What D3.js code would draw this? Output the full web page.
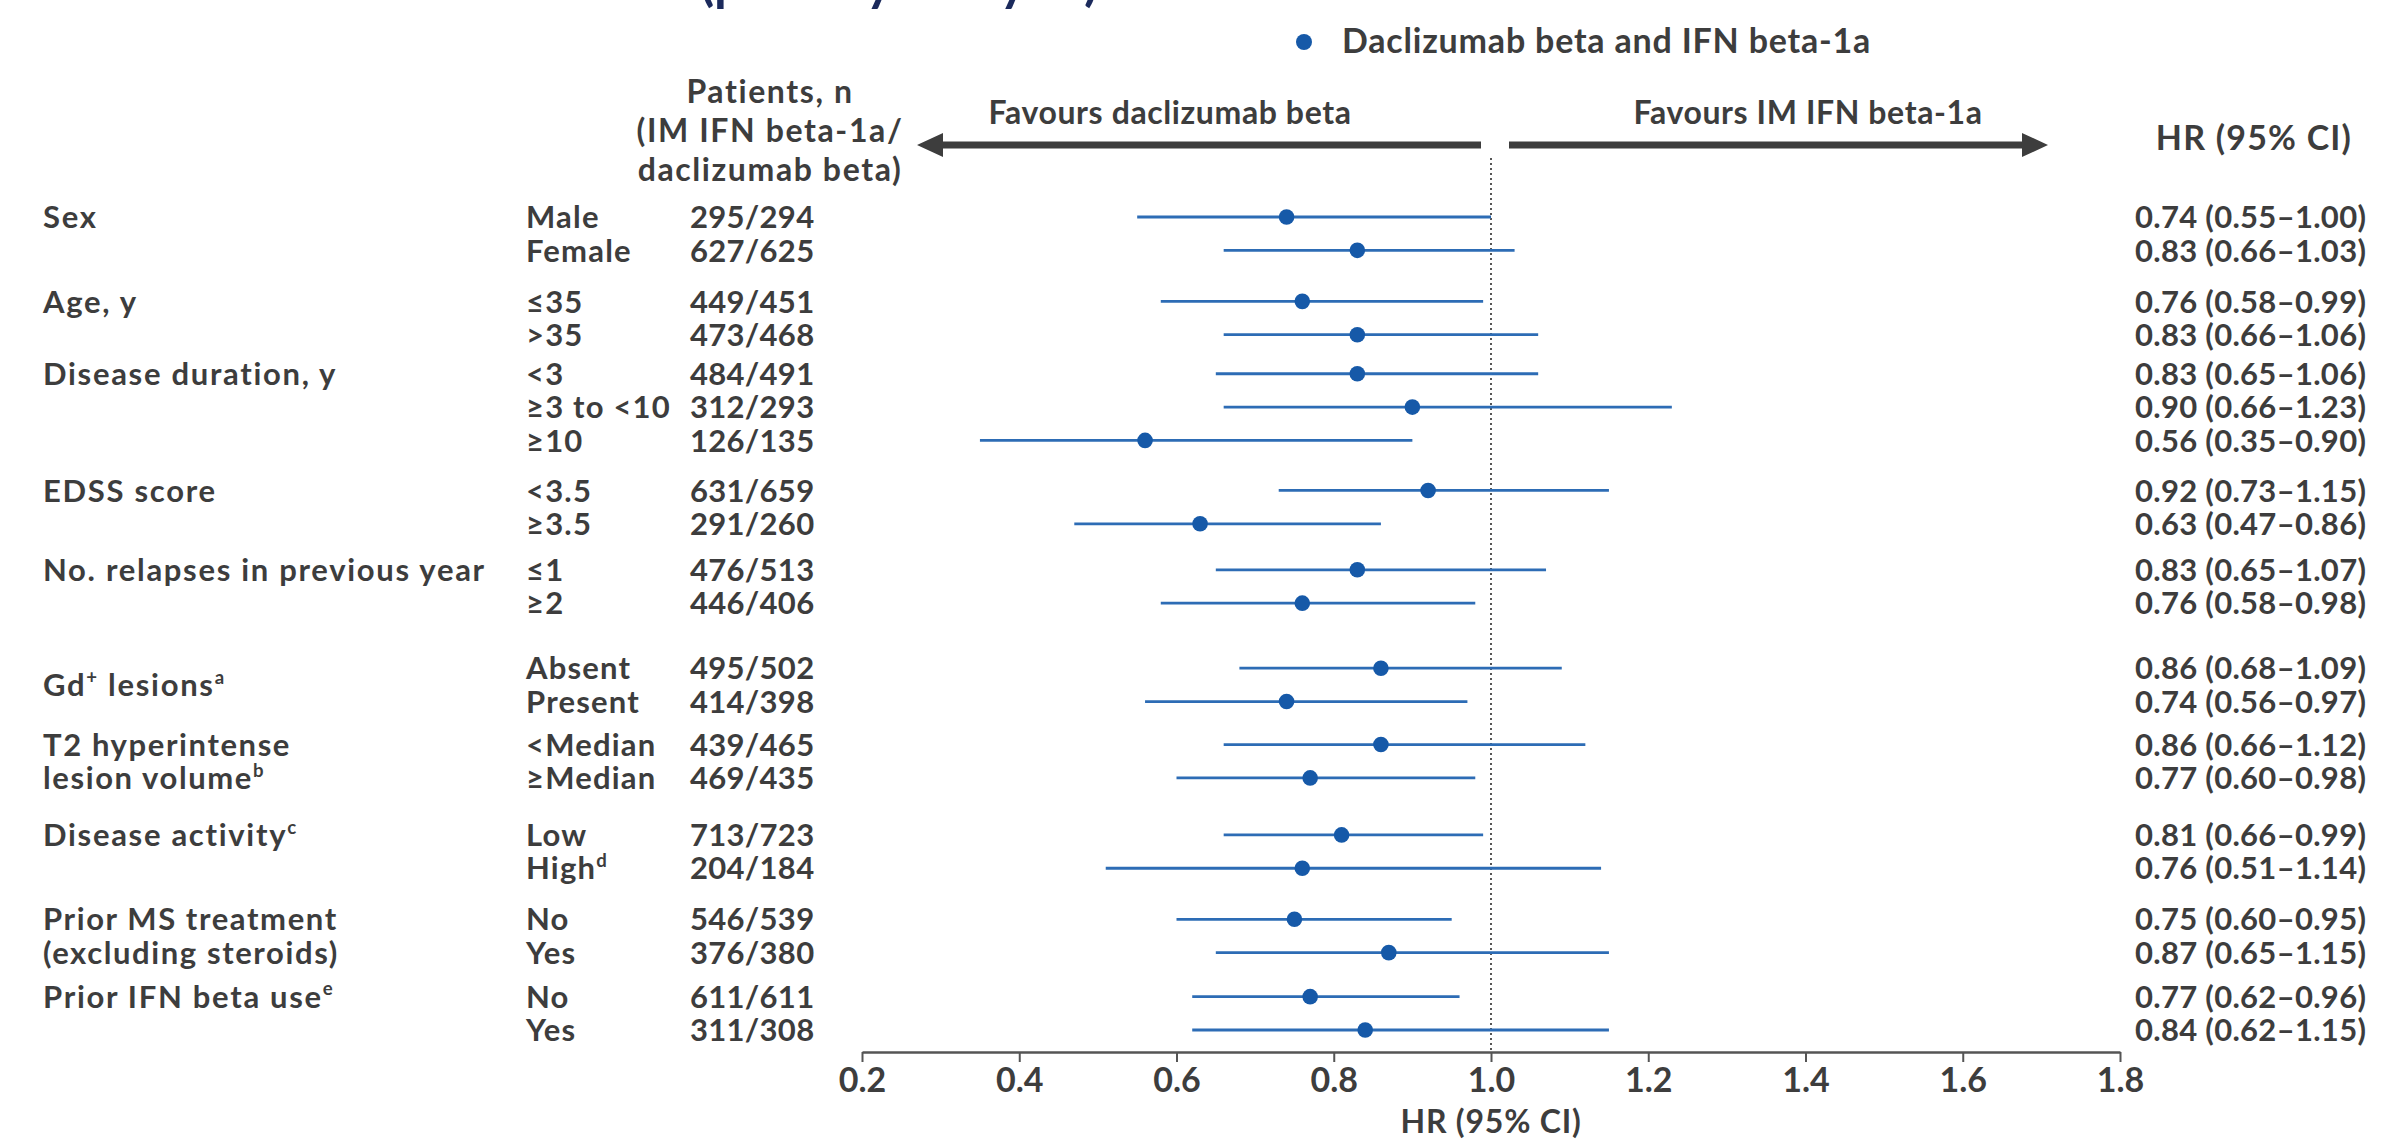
<!DOCTYPE html>
<html><head><meta charset="utf-8">
<script src="https://cdn.jsdelivr.net/npm/d3@7"></script>
<style>
body{margin:0;background:#fff}
svg{display:block}
text{font-family:Lato,"Open Sans",sans-serif;font-weight:700;fill:#3d3d3d}
</style>
</head><body>
<svg id="chart" width="2388" height="1143"></svg>
<script>
// ---------------- data ----------------
const groupLabels = [
  "Sex", "Age, y", "Disease duration, y", "EDSS score",
  "No. relapses in previous year", "Gd^+ lesions^a",
  "T2 hyperintense|lesion volume^b", "Disease activity^c",
  "Prior MS treatment|(excluding steroids)", "Prior IFN beta use^e"
];
const rowGroup = [0,0,1,1,2,2,2,3,3,4,4,5,5,6,6,7,7,8,8,9,9];
const subgroups = ["Male","Female","≤35",">35","<3","≥3 to <10","≥10","<3.5","≥3.5","≤1","≥2",
  "Absent","Present","<Median","≥Median","Low","High^d","No","Yes","No","Yes"];
const patients = ["295/294","627/625","449/451","473/468","484/491","312/293","126/135","631/659","291/260",
  "476/513","446/406","495/502","414/398","439/465","469/435","713/723","204/184","546/539","376/380","611/611","311/308"];
const hr  = [0.74,0.83,0.76,0.83,0.83,0.90,0.56,0.92,0.63,0.83,0.76,0.86,0.74,0.86,0.77,0.81,0.76,0.75,0.87,0.77,0.84];
const ciLow  = [0.55,0.66,0.58,0.66,0.65,0.66,0.35,0.73,0.47,0.65,0.58,0.68,0.56,0.66,0.60,0.66,0.51,0.60,0.65,0.62,0.62];
const ciHigh = [1.00,1.03,0.99,1.06,1.06,1.23,0.90,1.15,0.86,1.07,0.98,1.09,0.97,1.12,0.98,0.99,1.14,0.95,1.15,0.96,1.15];
const xTicks = [0.2,0.4,0.6,0.8,1.0,1.2,1.4,1.6,1.8];
const legendLabel = "Daclizumab beta and IFN beta-1a";
const favoursLeft = "Favours daclizumab beta";
const favoursRight = "Favours IM IFN beta-1a";
const patientsHeader = ["Patients, n","(IM IFN beta-1a/","daclizumab beta)"];
const hrHeader = "HR (95% CI)";
const axisTitle = "HR (95% CI)";
const titleText = "(primary analysis)";

// ---------------- layout ----------------
const svg = d3.select("#chart");
const ink = "#3d3d3d", blue = "#1659a8", blueLine = "#2d6cb5";
// extra vertical space (in row units) before each group
const groupGapUnits = [0, 1.53, 1.17, 1.50, 1.38, 1.95, 1.29, 1.71, 1.53, 1.32];
const slot = [];
let acc = 0;
rowGroup.forEach((g, i) => {
  if (i > 0) acc += (g !== rowGroup[i-1]) ? groupGapUnits[g] : 1;
  slot.push(acc);
});
const y = d3.scaleLinear().domain([0, acc]).range([217, 1030]);
const x = d3.scaleLinear().domain([0.2, 1.8]).range([862, 2120]);

const FS = 31;
function richText(sel, str, fs) {
  const parts = str.split(/(\^[^ ]+)/).filter(s => s.length);
  let raised = false;
  parts.forEach(p => {
    if (p.startsWith("^")) {
      sel.append("tspan").text(p.slice(1)).attr("font-size", fs*0.6)
        .attr("dy", raised ? 0 : -fs*0.4);
      raised = true;
    } else {
      sel.append("tspan").text(p).attr("dy", raised ? fs*0.4 : 0);
      raised = false;
    }
  });
}

// title (cut off at the top edge, as in the source figure)
svg.append("text").attr("x", 700).attr("y", 0).attr("font-size", 52)
  .style("fill", "#1b2a5c").text(titleText);

// legend
svg.append("circle").attr("cx", 1304).attr("cy", 42).attr("r", 8).attr("fill", blue);
svg.append("text").attr("x", 1342).attr("y", 53).attr("font-size", 34)
  .attr("letter-spacing", 0.8).text(legendLabel);

// patients header
patientsHeader.forEach((t, i) => {
  svg.append("text").attr("x", 770).attr("y", 103 + i*39).attr("font-size", 32)
    .attr("letter-spacing", 1.6).attr("text-anchor", "middle").text(t);
});
// favours labels
svg.append("text").attr("x", 1170).attr("y", 124).attr("font-size", 32).attr("letter-spacing", 0.6)
  .attr("text-anchor", "middle").text(favoursLeft);
svg.append("text").attr("x", 1808).attr("y", 124).attr("font-size", 32).attr("letter-spacing", 0.6)
  .attr("text-anchor", "middle").text(favoursRight);
svg.append("text").attr("x", 2254).attr("y", 150).attr("font-size", 34).attr("letter-spacing", 1.2)
  .attr("text-anchor", "middle").text(hrHeader);

// arrows
const ay = 145, half = 3.5, head = 12;
const lTip = x(0.2) + 55, lEnd = x(1.0) - 10, rStart = x(1.0) + 18, rTip = x(1.8) - 72;
svg.append("path").attr("fill", ink)
  .attr("d", `M${lEnd},${ay-half}L${lTip+26},${ay-half}L${lTip+26},${ay-head}L${lTip},${ay}L${lTip+26},${ay+head}L${lTip+26},${ay+half}L${lEnd},${ay+half}Z`);
svg.append("path").attr("fill", ink)
  .attr("d", `M${rStart},${ay-half}L${rTip-26},${ay-half}L${rTip-26},${ay-head}L${rTip},${ay}L${rTip-26},${ay+head}L${rTip-26},${ay+half}L${rStart},${ay+half}Z`);

// reference line at HR = 1
svg.append("line").attr("x1", x(1)).attr("x2", x(1)).attr("y1", 158).attr("y2", 1052)
  .attr("stroke", "#444").attr("stroke-width", 1.8).attr("stroke-dasharray", "2,3");

// group labels
groupLabels.forEach((lab, g) => {
  const rows = rowGroup.map((gg, i) => gg === g ? i : -1).filter(i => i >= 0);
  const lines = lab.split("|");
  if (lines.length > 1) {
    lines.forEach((ln, k) => {
      const t = svg.append("text").attr("x", 43).attr("y", y(slot[rows[k]]) + FS*0.36).attr("font-size", FS).attr("letter-spacing", 1.6);
      richText(t, ln, FS);
    });
  } else {
    const yy = lab.startsWith("Gd") ? (y(slot[rows[0]]) + y(slot[rows[1]])) / 2 : y(slot[rows[0]]);
    const t = svg.append("text").attr("x", 43).attr("y", yy + FS*0.36).attr("font-size", FS).attr("letter-spacing", 1.7);
    richText(t, lines[0], FS);
  }
});

// rows
subgroups.forEach((s, i) => {
  const yy = y(slot[i]);
  const t = svg.append("text").attr("x", 526).attr("y", yy + FS*0.36).attr("font-size", FS).attr("letter-spacing", 1.2);
  richText(t, s, FS);
  svg.append("text").attr("x", 690).attr("y", yy + FS*0.36).attr("font-size", FS).attr("letter-spacing", 0.3).text(patients[i]);
  svg.append("text").attr("x", 2135).attr("y", yy + FS*0.36).attr("font-size", FS).attr("letter-spacing", 0.3)
    .text(`${hr[i].toFixed(2)} (${ciLow[i].toFixed(2)}–${ciHigh[i].toFixed(2)})`);
});

// CI lines and points
const plot = svg.append("g");
plot.selectAll("line.ci").data(hr).join("line").attr("class", "ci")
  .attr("x1", (d, i) => x(ciLow[i])).attr("x2", (d, i) => x(ciHigh[i]))
  .attr("y1", (d, i) => y(slot[i])).attr("y2", (d, i) => y(slot[i]))
  .attr("stroke", blueLine).attr("stroke-width", 2.8);
plot.selectAll("circle.pt").data(hr).join("circle").attr("class", "pt")
  .attr("cx", d => x(d)).attr("cy", (d, i) => y(slot[i])).attr("r", 7.8).attr("fill", blue);

// x axis
const ax = svg.append("g").attr("transform", "translate(0,1052)")
  .call(d3.axisBottom(x).tickValues(xTicks).tickFormat(d3.format(".1f")).tickSize(10).tickSizeOuter(0).tickPadding(6));
ax.select(".domain").attr("stroke", "#555").attr("stroke-width", 2.5);
ax.selectAll(".tick line").attr("stroke", "#555").attr("stroke-width", 2);
ax.selectAll(".tick text").attr("font-size", 34).attr("font-family", "Lato").attr("font-weight", 700).style("fill", ink);
svg.append("text").attr("x", x(1)).attr("y", 1133).attr("font-size", 32).attr("letter-spacing", 0.8)
  .attr("text-anchor", "middle").text(axisTitle);
</script>
</body></html>
